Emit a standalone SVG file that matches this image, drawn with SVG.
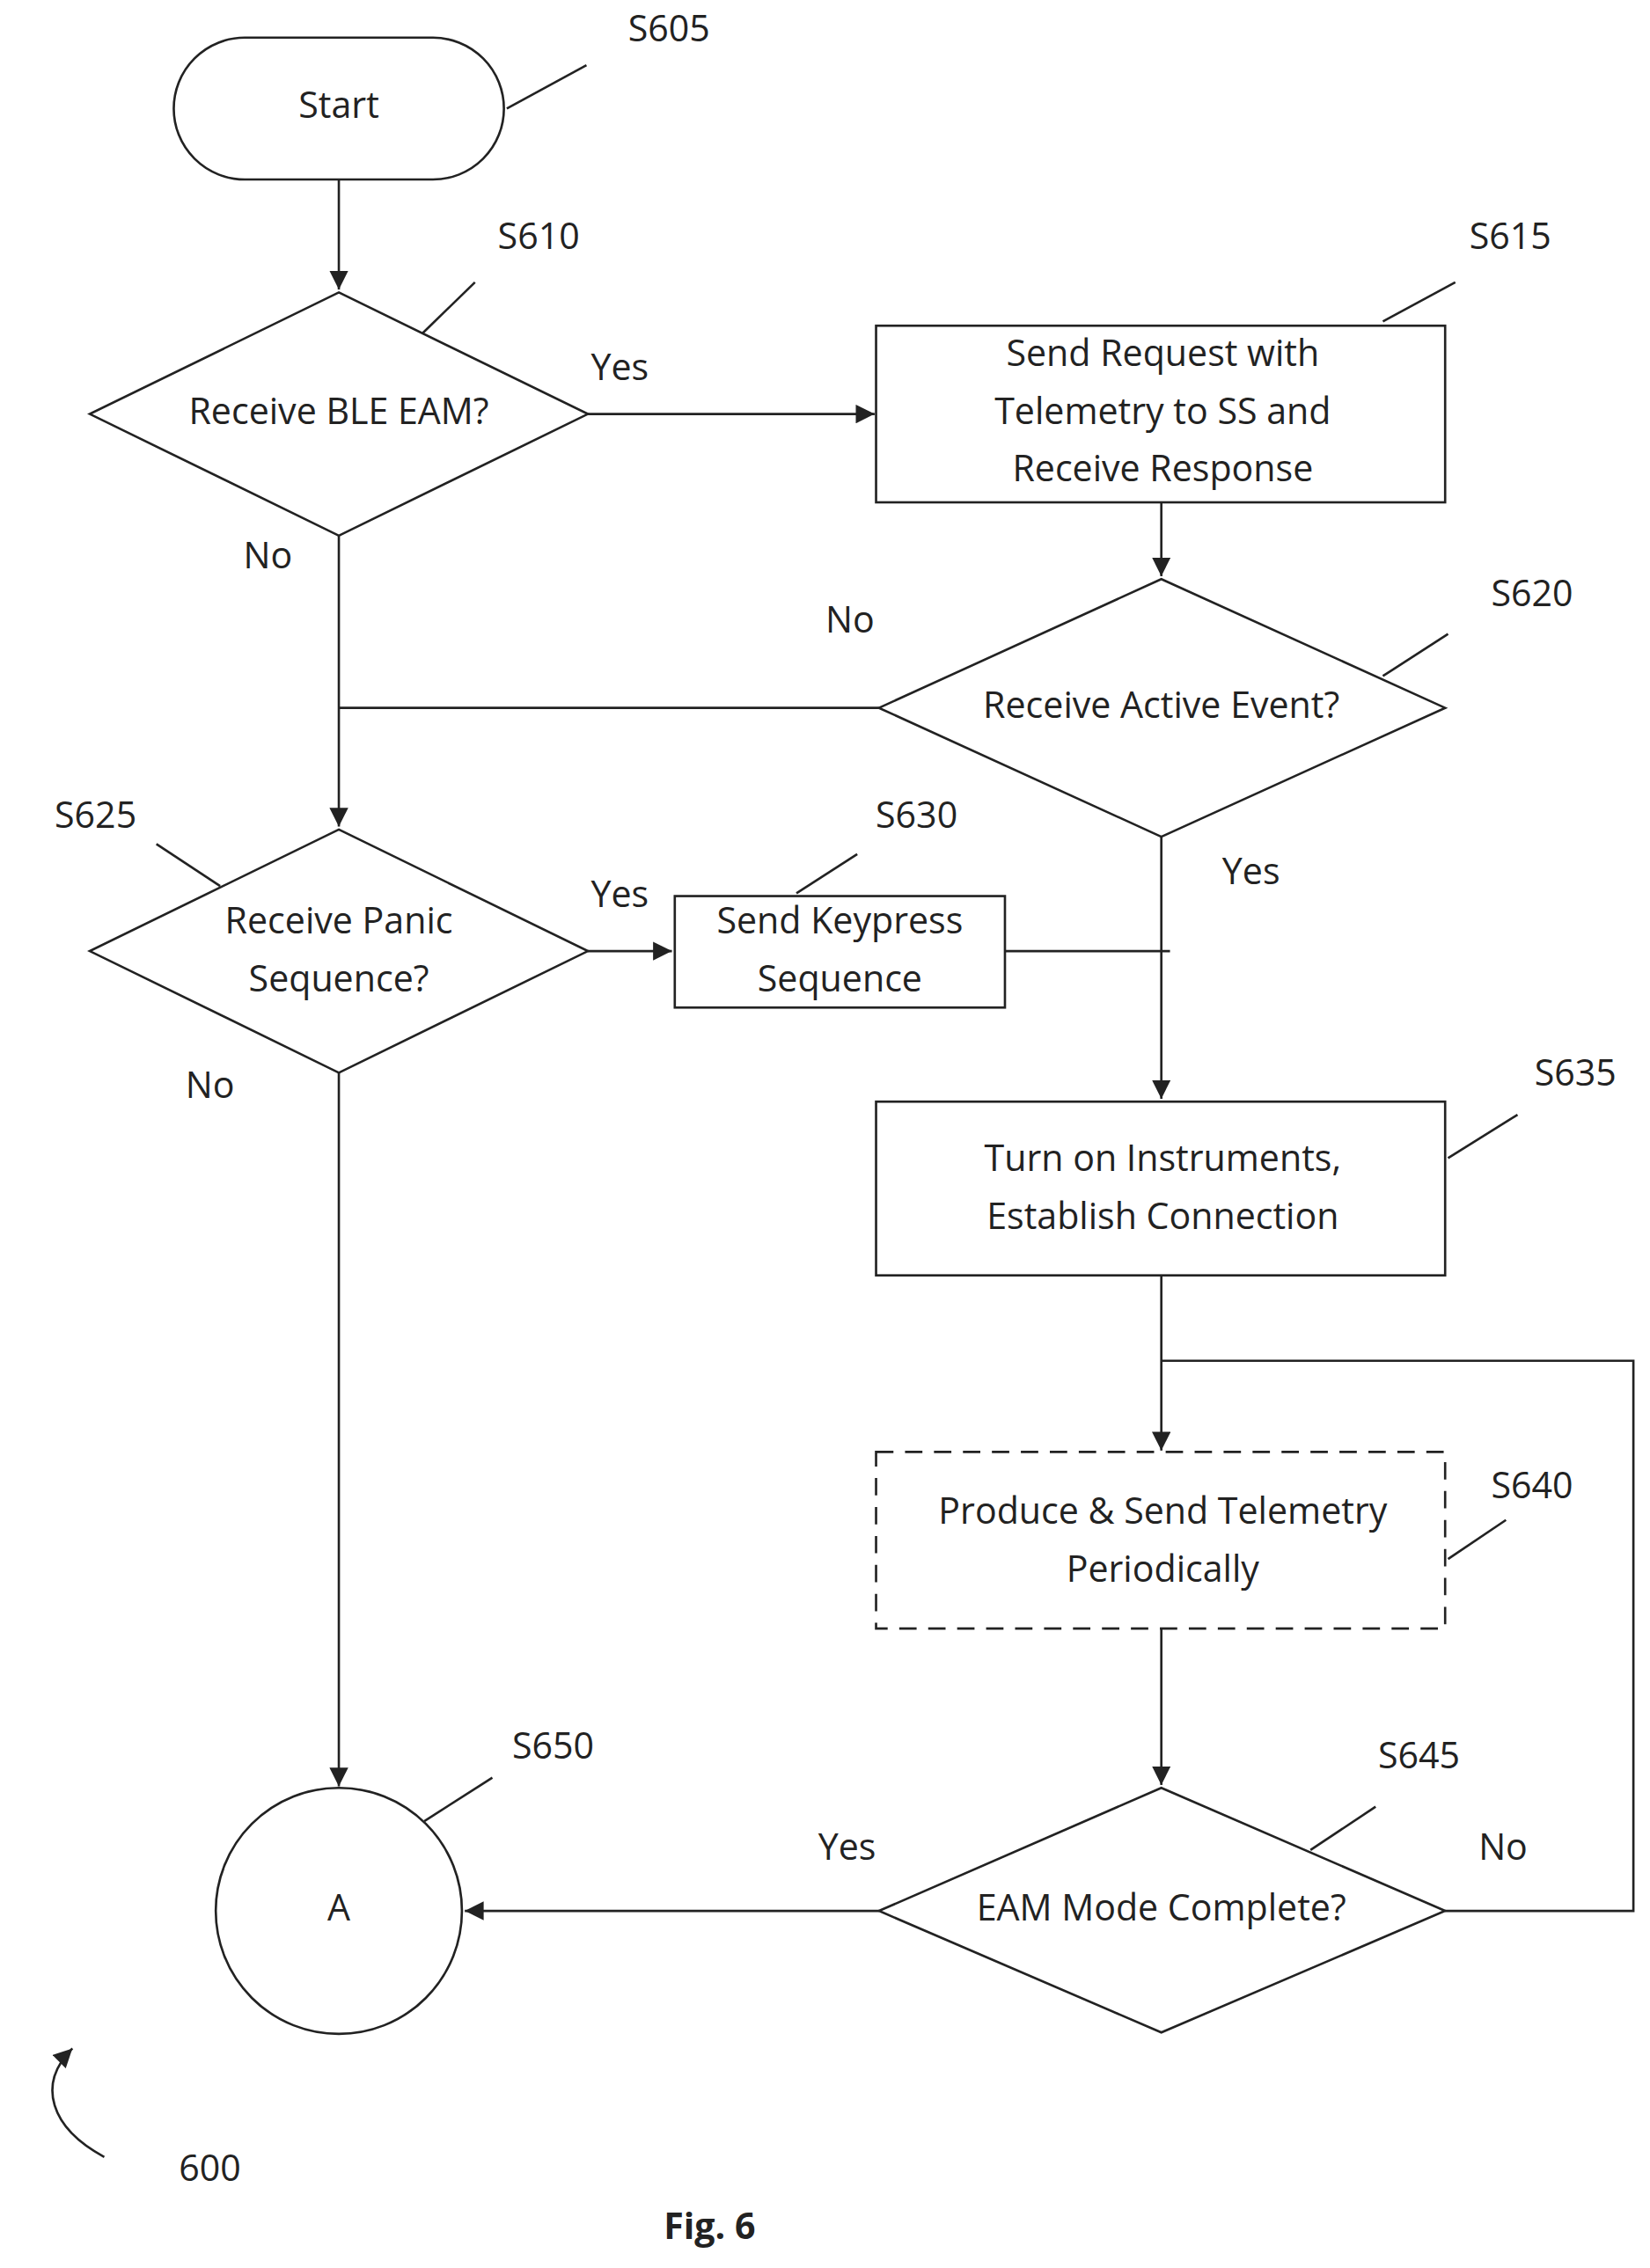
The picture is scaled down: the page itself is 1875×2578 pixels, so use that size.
<svg xmlns="http://www.w3.org/2000/svg" width="1875" height="2578" viewBox="0 0 1875 2578">
<defs>
<marker id="ah" viewBox="0 0 10 10" refX="10" refY="5" markerWidth="7" markerHeight="7" orient="auto" markerUnits="userSpaceOnUse"><path d="M0,0 L10,5 L0,10 z" fill="#222"/></marker>
<marker id="ah2" viewBox="0 0 10 10" refX="10" refY="5" markerWidth="13" markerHeight="13" orient="auto" markerUnits="userSpaceOnUse"><path d="M0,0 L10,5 L0,10 z" fill="#222"/></marker>
</defs>
<style>
.s{fill:#fff;stroke:#222;stroke-width:1.6}
.l{fill:none;stroke:#222;stroke-width:1.6}
.a{fill:none;stroke:#222;stroke-width:1.6;marker-end:url(#ah2)}
text{font-family:"Open Sans","Liberation Sans",sans-serif;font-size:25px;fill:#222;text-anchor:middle;dominant-baseline:middle}
</style>
<rect width="1875" height="2578" fill="#fff"/>
<g transform="scale(1.6455)">
<g id="connectors">
<path class="a" d="M234,124 V200"/>
<path class="a" d="M406,286 H604"/>
<path class="a" d="M802,347 V398"/>
<path class="l" d="M607,489 H234"/>
<path class="a" d="M234,370 V571"/>
<path class="a" d="M406,657 H464"/>
<path class="l" d="M694,657 H808"/>
<path class="a" d="M802,578 V759"/>
<path class="a" d="M802,881 V1002"/>
<path class="l" d="M998,1320 H1128 V940 H802"/>
<path class="a" d="M802,1125 V1233"/>
<path class="a" d="M607,1320 H321"/>
<path class="a" d="M234,741 V1234"/>
<text x="428" y="256">Yes</text>
<text x="185" y="386">No</text>
<text x="587" y="430">No</text>
<text x="428" y="620">Yes</text>
<text x="864" y="604">Yes</text>
<text x="145" y="752">No</text>
<text x="1038" y="1278">No</text>
<text x="585" y="1278">Yes</text>
</g>
<g id="S605"><rect class="s" x="120" y="26" width="228" height="98" rx="49"/><text x="234" y="75">Start</text><path class="l" d="M350,75 L405,45"/><text x="462" y="22">S605</text></g>
<g id="S610"><path class="s" d="M234,202 L406,286 L234,370 L62,286 z"/><text x="234" y="286">Receive BLE EAM?</text><path class="l" d="M292,230 L328,195"/><text x="372" y="165">S610</text></g>
<g id="S615"><rect class="s" x="605" y="225" width="393" height="122"/><text x="803" y="246">Send Request with</text><text x="803" y="286">Telemetry to SS and</text><text x="803" y="326">Receive Response</text><path class="l" d="M955,222 L1005,195"/><text x="1043" y="165">S615</text></g>
<g id="S620"><path class="s" d="M802,400 L998,489 L802,578 L607,489 z"/><text x="802" y="489">Receive Active Event?</text><path class="l" d="M955,467 L1000,438"/><text x="1058" y="412">S620</text></g>
<g id="S625"><path class="s" d="M234,573 L406,657 L234,741 L62,657 z"/><text x="234" y="638">Receive Panic</text><text x="234" y="678">Sequence?</text><path class="l" d="M108,583 L152,612"/><text x="66" y="565">S625</text></g>
<g id="S630"><rect class="s" x="466" y="619" width="228" height="77"/><text x="580" y="638">Send Keypress</text><text x="580" y="678">Sequence</text><path class="l" d="M550,617 L592,590"/><text x="633" y="565">S630</text></g>
<g id="S635"><rect class="s" x="605" y="761" width="393" height="120"/><text x="803" y="802">Turn on Instruments,</text><text x="803" y="842">Establish Connection</text><path class="l" d="M1000,800 L1048,770"/><text x="1088" y="743">S635</text></g>
<g id="S640"><rect class="s" x="605" y="1003" width="393" height="122" stroke-dasharray="12,8"/><text x="803" y="1046">Produce &amp; Send Telemetry</text><text x="803" y="1086">Periodically</text><path class="l" d="M1000,1077 L1040,1050"/><text x="1058" y="1028">S640</text></g>
<g id="S645"><path class="s" d="M802,1235 L998,1320 L802,1404 L607,1320 z"/><text x="802" y="1320">EAM Mode Complete?</text><path class="l" d="M905,1278 L950,1248"/><text x="980" y="1215">S645</text></g>
<g id="S650"><circle class="s" cx="234" cy="1320" r="85"/><text x="234" y="1320">A</text><path class="l" d="M293,1258 L340,1228"/><text x="382" y="1208">S650</text></g>
<g id="label600"><path class="l" d="M72,1490 C35,1470 25,1440 50,1415" marker-end="url(#ah2)"/><text x="145" y="1500">600</text></g>
<text x="490" y="1540" font-weight="bold">Fig. 6</text>
</g>
</svg>
